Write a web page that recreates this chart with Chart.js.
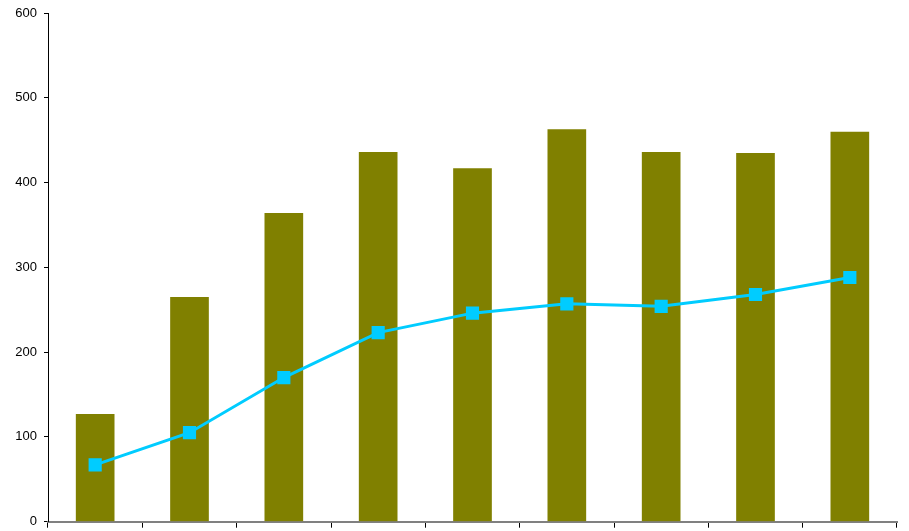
<!DOCTYPE html>
<html>
<head>
<meta charset="utf-8">
<script src="https://cdn.jsdelivr.net/npm/chart.js@4/dist/chart.umd.min.js"></script>
<style>
  html, body { margin: 0; padding: 0; background: #ffffff; }
  #wrap { width: 909px; height: 531px; position: relative; }
</style>
</head>
<body>
<div id="wrap"><canvas id="c" width="909" height="531"></canvas></div>
<script>
const categories = ["1", "2", "3", "4", "5", "6", "7", "8", "9"];
const barValues = [127, 265, 364, 436, 417, 463, 436, 435, 460];
const lineValues = [67, 105, 170, 223, 246, 257, 254, 268, 288];
const yTicks = [0, 100, 200, 300, 400, 500, 600];

const ctx = document.getElementById('c').getContext('2d');
new Chart(ctx, {
  data: {
    labels: categories,
    datasets: [
      {
        type: 'line',
        data: lineValues,
        borderColor: '#00CCFF',
        backgroundColor: '#00CCFF',
        borderWidth: 3,
        tension: 0,
        pointStyle: 'rect',
        pointRadius: 9.3,
        pointBorderWidth: 0,
        pointBackgroundColor: '#00CCFF',
        order: 0
      },
      {
        type: 'bar',
        data: barValues,
        backgroundColor: '#808000',
        borderWidth: 0,
        categoryPercentage: 1.0,
        barPercentage: 0.41,
        order: 1
      }
    ]
  },
  options: {
    responsive: false,
    animation: false,
    devicePixelRatio: 1,
    layout: { padding: { left: 0, right: 12, top: 13, bottom: 0 } },
    plugins: { legend: { display: false }, tooltip: { enabled: false } },
    scales: {
      x: {
        type: 'category',
        offset: true,
        afterFit: s => { s.height = 9; s.paddingBottom = 0; },
        ticks: { display: false },
        grid: {
          offset: true,
          drawOnChartArea: false,
          drawTicks: true,
          tickLength: 6,
          tickColor: '#000000',
          tickWidth: 1
        },
        border: { display: true, color: '#808080', width: 2 }
      },
      y: {
        min: 0,
        max: 600,
        afterFit: s => { s.width = 48; s.paddingBottom = 0; s.paddingTop = 0; },
        afterBuildTicks: s => { s.ticks = yTicks.map(v => ({ value: v })); },
        ticks: {
          stepSize: 100,
          color: '#000000',
          padding: 7,
          font: { family: '"Liberation Sans", Arial, sans-serif', size: 13 }
        },
        grid: {
          drawOnChartArea: false,
          drawTicks: true,
          tickLength: 4,
          tickColor: '#000000'
        },
        border: { display: true, color: '#000000', width: 1 }
      }
    }
  }
});
</script>
</body>
</html>
